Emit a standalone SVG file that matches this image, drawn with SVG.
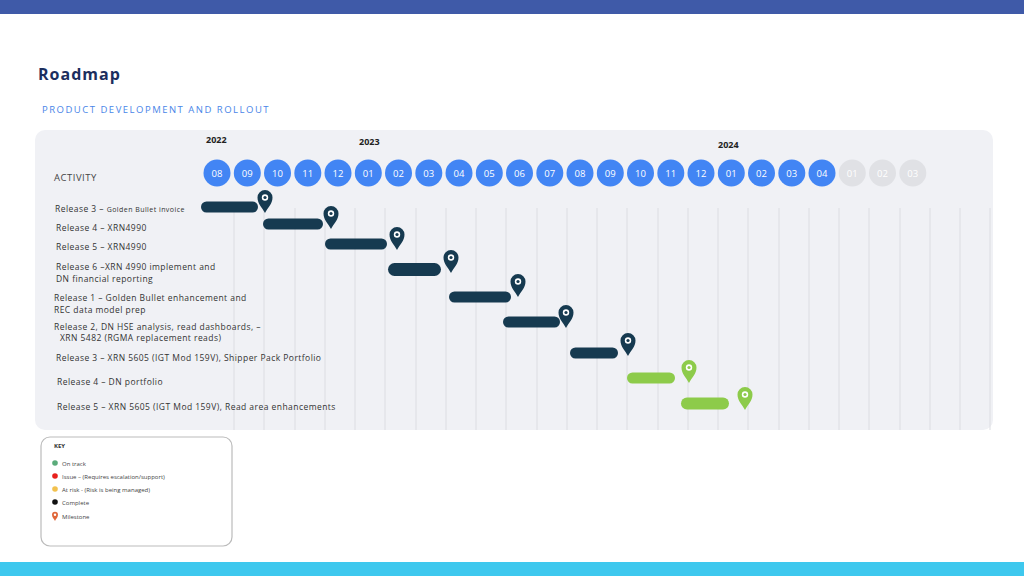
<svg xmlns="http://www.w3.org/2000/svg" width="1024" height="576" viewBox="0 0 1024 576">
<style>
text{font-family:"Open Sans","Liberation Sans",sans-serif}
.act{font-size:8.5px;fill:#333;letter-spacing:0.45px}
.m{font-size:9.5px;fill:#fff;text-anchor:middle}
.mc{fill:#4285f4}
.mg{fill:#e0e1e5}
.vl{stroke:#dcdde2;stroke-width:1}
.bd{fill:#163a50}
.bg{fill:#8dcb4a}
.k{font-size:6px;fill:#444}
</style>
<defs>
<path id="pin" d="M0,0 C-3,-6 -7.5,-9 -7.5,-15.5 A7.5,7.5 0 1 1 7.5,-15.5 C7.5,-9 3,-6 0,0 Z"/>
</defs>
<rect width="1024" height="576" fill="#fff"/>
<rect width="1024" height="14" fill="#3f5aa8"/>
<rect y="562" width="1024" height="14" fill="#3ec8ee"/>
<text x="38" y="80" font-size="16" font-weight="bold" fill="#1c2e5e" letter-spacing="1">Roadmap</text>
<text x="42" y="113" font-size="9.5" fill="#4a86e8" letter-spacing="1.5">PRODUCT DEVELOPMENT AND ROLLOUT</text>
<rect x="35" y="130" width="958" height="300" rx="10" fill="#f0f1f5"/>
<g id="grid">
<path class="vl" d="M234,208V430M264,208V430M295,208V430M325,208V430M355,208V430M385,208V430M416,208V430M446,208V430M476,208V430M506,208V430M537,208V430M567,208V430M597,208V430M627,208V430M658,208V430M688,208V430M718,208V430M748,208V430M779,208V430M809,208V430M839,208V430M869,208V430M900,208V430M930,208V430M960,208V430M990,208V430"/>
</g>
<text x="206" y="143" font-size="9" font-weight="bold" fill="#222">2022</text>
<text x="359" y="145" font-size="9" font-weight="bold" fill="#222">2023</text>
<text x="718" y="148" font-size="9" font-weight="bold" fill="#222">2024</text>
<text x="54" y="181" font-size="9.5" fill="#444" letter-spacing="0.5">ACTIVITY</text>
<g id="months">
<circle class="mc" cx="217" cy="173" r="13.5"/><text class="m" x="217" y="176.5">08</text>
<circle class="mc" cx="247.3" cy="173" r="13.5"/><text class="m" x="247.3" y="176.5">09</text>
<circle class="mc" cx="277.5" cy="173" r="13.5"/><text class="m" x="277.5" y="176.5">10</text>
<circle class="mc" cx="307.8" cy="173" r="13.5"/><text class="m" x="307.8" y="176.5">11</text>
<circle class="mc" cx="338" cy="173" r="13.5"/><text class="m" x="338" y="176.5">12</text>
<circle class="mc" cx="368.3" cy="173" r="13.5"/><text class="m" x="368.3" y="176.5">01</text>
<circle class="mc" cx="398.5" cy="173" r="13.5"/><text class="m" x="398.5" y="176.5">02</text>
<circle class="mc" cx="428.8" cy="173" r="13.5"/><text class="m" x="428.8" y="176.5">03</text>
<circle class="mc" cx="459" cy="173" r="13.5"/><text class="m" x="459" y="176.5">04</text>
<circle class="mc" cx="489.3" cy="173" r="13.5"/><text class="m" x="489.3" y="176.5">05</text>
<circle class="mc" cx="519.5" cy="173" r="13.5"/><text class="m" x="519.5" y="176.5">06</text>
<circle class="mc" cx="549.8" cy="173" r="13.5"/><text class="m" x="549.8" y="176.5">07</text>
<circle class="mc" cx="580" cy="173" r="13.5"/><text class="m" x="580" y="176.5">08</text>
<circle class="mc" cx="610.3" cy="173" r="13.5"/><text class="m" x="610.3" y="176.5">09</text>
<circle class="mc" cx="640.5" cy="173" r="13.5"/><text class="m" x="640.5" y="176.5">10</text>
<circle class="mc" cx="670.8" cy="173" r="13.5"/><text class="m" x="670.8" y="176.5">11</text>
<circle class="mc" cx="701" cy="173" r="13.5"/><text class="m" x="701" y="176.5">12</text>
<circle class="mc" cx="731.3" cy="173" r="13.5"/><text class="m" x="731.3" y="176.5">01</text>
<circle class="mc" cx="761.5" cy="173" r="13.5"/><text class="m" x="761.5" y="176.5">02</text>
<circle class="mc" cx="791.8" cy="173" r="13.5"/><text class="m" x="791.8" y="176.5">03</text>
<circle class="mc" cx="822" cy="173" r="13.5"/><text class="m" x="822" y="176.5">04</text>
<circle class="mg" cx="852.3" cy="173" r="13.5"/><text class="m" x="852.3" y="176.5">01</text>
<circle class="mg" cx="882.5" cy="173" r="13.5"/><text class="m" x="882.5" y="176.5">02</text>
<circle class="mg" cx="912.8" cy="173" r="13.5"/><text class="m" x="912.8" y="176.5">03</text>
</g>
<g id="labels">
<text class="act" x="55" y="212">Release 3 – <tspan font-size="7">Golden Bullet invoice</tspan></text>
<text class="act" x="56" y="231">Release 4 – XRN4990</text>
<text class="act" x="56" y="250">Release 5 – XRN4990</text>
<text class="act" x="56" y="270">Release 6 –XRN 4990 implement and</text>
<text class="act" x="56" y="282">DN financial reporting</text>
<text class="act" x="54" y="301">Release 1 – Golden Bullet enhancement and</text>
<text class="act" x="54" y="313">REC data model prep</text>
<text class="act" x="54" y="330">Release 2, DN HSE analysis, read dashboards, –</text>
<text class="act" x="60" y="341">XRN 5482 (RGMA replacement reads)</text>
<text class="act" x="56" y="361">Release 3 –  XRN 5605 (IGT Mod 159V), Shipper Pack Portfolio</text>
<text class="act" x="57" y="385">Release 4 –  DN portfolio</text>
<text class="act" x="57" y="410">Release 5 –  XRN 5605 (IGT Mod 159V), Read area enhancements</text>
</g>
<g id="bars">
<rect class="bd" x="201" y="201.5" width="57" height="11" rx="5.5"/>
<rect class="bd" x="263" y="218.5" width="60" height="11" rx="5.5"/>
<rect class="bd" x="325" y="238.5" width="62" height="11" rx="5.5"/>
<rect class="bd" x="388" y="263" width="53" height="13" rx="6.5"/>
<rect class="bd" x="449" y="291.5" width="62" height="11" rx="5.5"/>
<rect class="bd" x="503" y="316.5" width="57" height="11" rx="5.5"/>
<rect class="bd" x="570" y="347.5" width="48" height="11" rx="5.5"/>
<rect class="bg" x="627" y="372.5" width="48" height="11" rx="5.5"/>
<rect class="bg" x="681" y="397.5" width="48" height="12" rx="6"/>
</g>
<g id="pins">
<g transform="translate(265,213)"><use href="#pin" fill="#163a50"/><circle cy="-15.5" r="3.2" fill="#fff"/><circle cy="-15.5" r="1.6" fill="#163a50"/></g>
<g transform="translate(331,229)"><use href="#pin" fill="#163a50"/><circle cy="-15.5" r="3.2" fill="#fff"/><circle cy="-15.5" r="1.6" fill="#163a50"/></g>
<g transform="translate(397,250)"><use href="#pin" fill="#163a50"/><circle cy="-15.5" r="3.2" fill="#fff"/><circle cy="-15.5" r="1.6" fill="#163a50"/></g>
<g transform="translate(451,273)"><use href="#pin" fill="#163a50"/><circle cy="-15.5" r="3.2" fill="#fff"/><circle cy="-15.5" r="1.6" fill="#163a50"/></g>
<g transform="translate(518,297)"><use href="#pin" fill="#163a50"/><circle cy="-15.5" r="3.2" fill="#fff"/><circle cy="-15.5" r="1.6" fill="#163a50"/></g>
<g transform="translate(566,328)"><use href="#pin" fill="#163a50"/><circle cy="-15.5" r="3.2" fill="#fff"/><circle cy="-15.5" r="1.6" fill="#163a50"/></g>
<g transform="translate(628,356)"><use href="#pin" fill="#163a50"/><circle cy="-15.5" r="3.2" fill="#fff"/><circle cy="-15.5" r="1.6" fill="#163a50"/></g>
<g transform="translate(689,383)"><use href="#pin" fill="#8dcb4a"/><circle cy="-15.5" r="3.2" fill="#fff"/><circle cy="-15.5" r="1.6" fill="#8dcb4a"/></g>
<g transform="translate(745,410)"><use href="#pin" fill="#8dcb4a"/><circle cy="-15.5" r="3.2" fill="#fff"/><circle cy="-15.5" r="1.6" fill="#8dcb4a"/></g>
</g>
<g id="key">
<rect x="41" y="437" width="191" height="109" rx="9" fill="#fff" stroke="#bbb" stroke-width="1.2"/>
<text x="54" y="448" font-size="6" font-weight="bold" fill="#333">KEY</text>
<circle cx="55" cy="463" r="2.8" fill="#5aab7a"/><text class="k" x="62" y="465.5">On track</text>
<circle cx="55" cy="476" r="2.8" fill="#e8201c"/><text class="k" x="62" y="478.5">Issue – (Requires escalation/support)</text>
<circle cx="55" cy="489" r="2.8" fill="#f2c14e"/><text class="k" x="62" y="491.5">At risk - (Risk is being managed)</text>
<circle cx="55" cy="502" r="2.8" fill="#111"/><text class="k" x="62" y="504.5">Complete</text>
<g transform="translate(55,521) scale(0.4)"><use href="#pin" fill="#e0673a"/><circle cy="-15.5" r="3" fill="#fff"/></g><text class="k" x="62" y="518.5">Milestone</text>
</g>
</svg>
